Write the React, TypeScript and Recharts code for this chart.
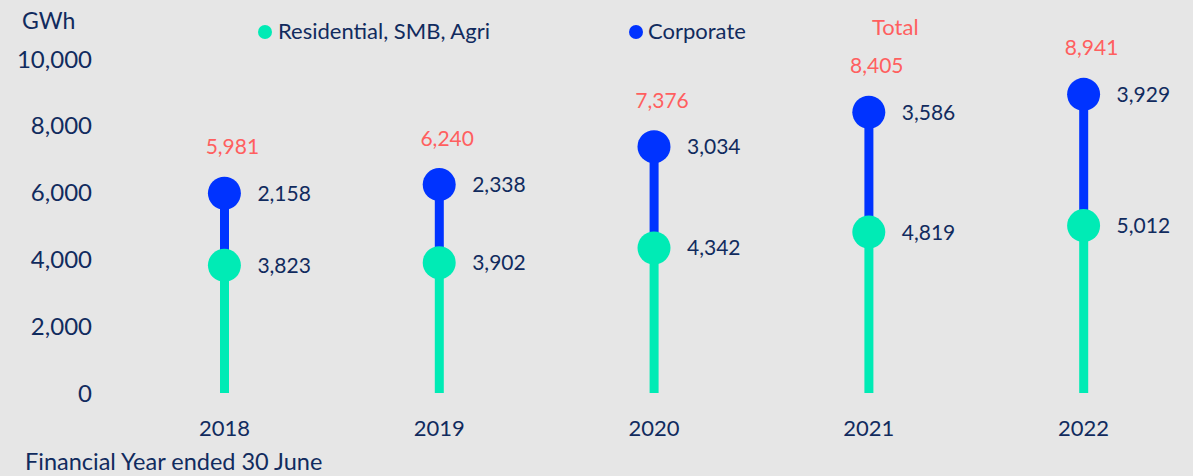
import { ComposedChart, Bar, Line, XAxis, YAxis, LabelList } from 'recharts'

const years = ['2018', '2019', '2020', '2021', '2022']
const residential = [3823, 3902, 4342, 4819, 5012]
const corporate = [2158, 2338, 3034, 3586, 3929]
const totals = [5981, 6240, 7376, 8405, 8941]
const yTicks = [0, 2000, 4000, 6000, 8000, 10000]

const GREEN = '#00ebb5'
const BLUE = '#0033ff'
const NAVY = '#112b5e'
const RED = '#ff5f5f'
const FONT = 'Lato, "Open Sans", sans-serif'

const data = years.map((year, i) => ({
  year,
  res: residential[i],
  corp: corporate[i],
  total: totals[i],
}))

const fmt = (v: any) => Number(v).toLocaleString('en-US')

export default function App() {
  return (
    <div
      style={{
        position: 'absolute',
        left: 0,
        top: 0,
        width: 1193,
        height: 476,
        background: '#e6e6e6',
        fontFamily: FONT,
        overflow: 'hidden',
      }}
    >
      <div style={{ position: 'absolute', left: 22, top: 8, fontSize: 23, lineHeight: '24px', color: NAVY }}>GWh</div>

      {/* legend */}
      <div style={{ position: 'absolute', left: 258, top: 25, width: 14, height: 14, borderRadius: 7, background: GREEN }} />
      <div style={{ position: 'absolute', left: 278, top: 19, fontSize: 22, lineHeight: '24px', color: NAVY }}>
        Residential, SMB, Agri
      </div>
      <div style={{ position: 'absolute', left: 629, top: 25, width: 14, height: 14, borderRadius: 7, background: BLUE }} />
      <div style={{ position: 'absolute', left: 648, top: 19, fontSize: 22, lineHeight: '24px', color: NAVY }}>
        Corporate
      </div>
      <div style={{ position: 'absolute', left: 872, top: 15, fontSize: 22, lineHeight: '24px', color: RED }}>Total</div>

      <div style={{ position: 'absolute', left: 25, top: 449, fontSize: 23.5, lineHeight: '24px', color: NAVY }}>
        Financial Year ended 30 June
      </div>

      <ComposedChart
        width={1193}
        height={476}
        data={data}
        margin={{ top: 59, right: 2, bottom: 53, left: 0 }}
        style={{ position: 'absolute', left: 0, top: 0 }}
      >
        <XAxis
          dataKey="year"
          axisLine={false}
          tickLine={false}
          tickMargin={21}
          tick={{ fill: NAVY, fontSize: 22, fontFamily: FONT }}
        />
        <YAxis
          width={117}
          domain={[0, 10000]}
          ticks={yTicks}
          axisLine={false}
          tickLine={false}
          tickMargin={19}
          tickFormatter={fmt}
          tick={{ fill: NAVY, fontSize: 24, fontFamily: FONT }}
        />
        <Bar dataKey="res" stackId="a" fill={GREEN} barSize={9} isAnimationActive={false} />
        <Bar dataKey="corp" stackId="a" fill={BLUE} barSize={9} isAnimationActive={false} />
        <Line
          dataKey="total"
          stroke="none"
          dot={{ r: 16.5, fill: BLUE, stroke: 'none' }}
          activeDot={false}
          isAnimationActive={false}
        >
          <LabelList
            dataKey="corp"
            position="right"
            offset={33}
            formatter={fmt}
            style={{ fill: NAVY, fontSize: 21, fontFamily: FONT }}
          />
          <LabelList
            dataKey="total"
            position="top"
            offset={39}
            dx={8}
            formatter={fmt}
            style={{ fill: RED, fontSize: 21, fontFamily: FONT }}
          />
        </Line>
        <Line
          dataKey="res"
          stroke="none"
          dot={{ r: 16.5, fill: GREEN, stroke: 'none' }}
          activeDot={false}
          isAnimationActive={false}
        >
          <LabelList
            dataKey="res"
            position="right"
            offset={33}
            formatter={fmt}
            style={{ fill: NAVY, fontSize: 21, fontFamily: FONT }}
          />
        </Line>
      </ComposedChart>
    </div>
  )
}
